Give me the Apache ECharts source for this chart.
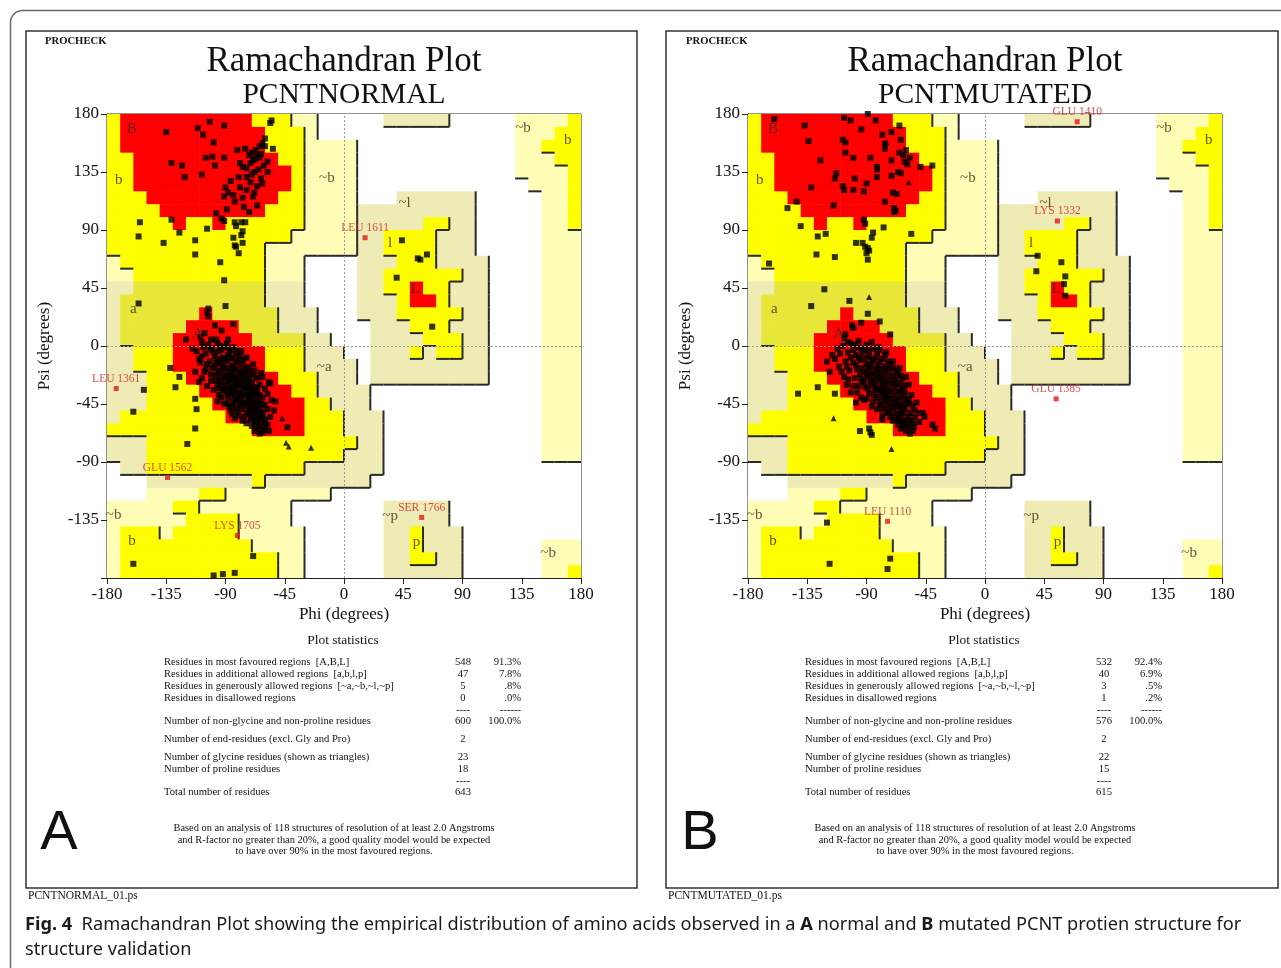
<!DOCTYPE html>
<html><head><meta charset="utf-8">
<script src="https://cdn.jsdelivr.net/npm/echarts@6/dist/echarts.min.js"></script>
<style>html,body{margin:0;padding:0;background:#fff;}#c{width:1281px;height:968px;}</style>
</head><body><div id="c"></div>
<script>
// ---------- DATA ----------
// PROCHECK region map, 10-degree cells. Row 0 = psi 170..180, col 0 = phi -180..-170
// 0 white, 1 generous (pale), 2 generous (beige), 3 allowed, 4 allowed (shaded band), 5 core
const regionRows = [
 "3555555555"+"5333110000"+"0222220000"+"011113",
 "3555555555"+"5533310000"+"0000000000"+"011133",
 "3555555555"+"5533311110"+"0000000000"+"011333",
 "3355555555"+"5553311110"+"0000000000"+"011133",
 "3355555555"+"5555311110"+"0000000000"+"011113",
 "3355555555"+"5555311110"+"0000000000"+"001113",
 "3335555555"+"5553311110"+"0022222200"+"000113",
 "3333555555"+"5533311112"+"2222222200"+"000113",
 "3333353353"+"3333311112"+"2222332200"+"000113",
 "3333333333"+"3333111112"+"2333322200"+"000111",
 "3333333333"+"3311111112"+"2333322200"+"000111",
 "1333333333"+"3311100002"+"2233322220"+"000111",
 "1133333333"+"3311100002"+"2333333220"+"000111",
 "2244444444"+"4422200002"+"2335332220"+"000111",
 "2444444444"+"4422200002"+"2235532220"+"000111",
 "2444444544"+"4442220002"+"2233333220"+"000111",
 "2444445555"+"4442220000"+"2223332220"+"000111",
 "2444455555"+"5444422000"+"2222333220"+"000111",
 "2233355555"+"5533322200"+"2223233220"+"000111",
 "2233355555"+"5533322220"+"2222222220"+"000111",
 "2223335555"+"5553332220"+"2222222220"+"000111",
 "2223333555"+"5555332222"+"0000000000"+"000111",
 "2223333355"+"5555533222"+"0000000000"+"000111",
 "2333333335"+"5555533322"+"2000000000"+"000111",
 "3333333333"+"3555533322"+"2000000000"+"000111",
 "2223333333"+"3333333332"+"2000000000"+"000111",
 "2223333333"+"3333333322"+"2000000000"+"000111",
 "0223333333"+"3333322222"+"2000000000"+"000000",
 "0002222222"+"2322222222"+"0000000000"+"000000",
 "0001111331"+"1111111000"+"0000000000"+"000000",
 "1111133111"+"1111000000"+"0222220000"+"000000",
 "1111113333"+"1111000000"+"0222220000"+"000000",
 "1333133333"+"1111100000"+"0223222000"+"000000",
 "1333333333"+"3111100000"+"0223222000"+"000111",
 "1333333333"+"3331100000"+"0223322000"+"000111",
 "1333333333"+"3331100000"+"0222222000"+"000113"
];

const regionLabelNames = ['B','b','A','a','L','l','~l','~b','b','~b','~a','~b','b','~p','p','~b'];
const regionLabelPhi   = [-161,-171,-111,-160,54,35,46,136,170,-13,-15,-175,-161,35,55,155];
const regionLabelPsi   = [168,129,9,29,44,80,111,169,160,130,-16,-131,-151,-132,-152,-161];

// ---- Panel A (PCNTNORMAL) ----
const betaPointsA = [
 [-55,175],[-56,173],[-102,174],[-91,171],[-111,169],[-135,166],[-107,164],[-60,161],[-99,158],[-62,157],
 [-64,155],[-75,153],[-81,152],[-54,153],[-105,146],[-100,147],[-91,146],[-131,142],[-123,140],[-98,140],
 [-79,142],[-69,144],[-66,148],[-77,139],[-74,138],[-71,142],[-61,140],[-64,146],[-70,150],[-68,135],
 [-121,131],[-108,133],[-80,131],[-74,131],[-63,130],[-90,123],[-88,119],[-79,123],[-74,121],[-68,119],
 [-91,116],[-83,112],[-77,115],[-69,116],[-97,103],[-89,106],[-66,109],[-93,99],[-91,97],[-155,96],
 [-131,98],[-125,88],[-156,85],[-104,91],[-137,80],[-113,82],[-113,71],[-83,96],[-78,96],[-75,96],
 [-82,93],[-77,89],[-78,86],[-84,84],[-83,78],[-82,77],[-80,72],[-77,80],[-94,65],[-91,51],
 [-90,31],[-156,33],[-72,148],[-67,152],[-60,155],[-65,137],[-58,143],[-62,126],[-66,124],[-71,127],
 [-86,128],[-84,117],[-76,108],[-72,104],[-68,145],[-63,149],[-70,133],[-58,135]
];
const alphaPointsA = [
 [-103,29],[-104,26],[-103,23],[-98,16],[-84,17],[-120,5],[-109,7],[-97,5],[-132,-17],[-125,-24],
 [-128,-32],[-152,-34],[-113,-41],[-112,-49],[-160,-51],[-113,-64],[-119,-76],[-83,-56],[-56,-29],[-52,-43],
 [-53,-50],[-62,-53],[-43,-63],[-108,-8],[-105,-18],[-110,-28],[-106,10],[-93,12],[-88,5],[-115,-2],
 [-100,-2],[-95,-4],[-90,-1],[-86,-3],[-82,-6],[-105,-6],[-98,-8],[-92,-9],[-88,-7],[-84,-10],
 [-79,-8],[-102,-12],[-97,-13],[-93,-14],[-89,-12],[-85,-15],[-81,-13],[-77,-14],[-73,-16],[-100,-17],
 [-95,-19],[-91,-18],[-87,-20],[-83,-19],[-79,-21],[-75,-20],[-71,-22],[-68,-19],[-98,-23],[-94,-25],
 [-90,-24],[-86,-26],[-82,-25],[-78,-27],[-74,-26],[-70,-28],[-66,-25],[-96,-30],[-92,-31],[-88,-29],
 [-84,-32],[-80,-30],[-76,-33],[-72,-31],[-68,-34],[-64,-30],[-90,-36],[-86,-37],[-82,-35],[-78,-38],
 [-74,-36],[-70,-39],[-66,-37],[-62,-40],[-88,-41],[-84,-43],[-80,-41],[-76,-44],[-72,-42],[-68,-45],
 [-64,-43],[-60,-46],[-82,-48],[-78,-49],[-74,-47],[-70,-50],[-66,-48],[-62,-51],[-58,-49],[-80,-54],
 [-76,-55],[-72,-53],[-68,-56],[-64,-54],[-60,-57],[-74,-60],[-70,-62],[-66,-59],[-62,-63],[-58,-61],
 [-68,-66],[-64,-68],[-60,-65],[-94,-10],[-81,-28],[-77,-24],[-73,-40],[-79,-45],[-85,-22],[-71,-34],
 [-67,-42],[-75,-30],[-87,-33],[-83,-39],[-69,-47],[-65,-52],[-63,-58],[-107,-1],[-103,1],[-96,2],
 [-110,-10],[-106,-20],[-101,-27],[-99,-34],[-95,-38],[-91,-45],[-86,-50],[-71,-57],[-56,-55],[-57,-66],
 [-99,-5],[-93,-3],[-87,-5],[-81,-4],[-96,-11],[-90,-10],[-86,-9],[-80,-11],[-76,-10],[-104,-14],
 [-98,-16],[-92,-16],[-88,-17],[-84,-17],[-80,-18],[-76,-18],[-72,-19],[-96,-21],[-92,-22],[-88,-23],
 [-84,-24],[-80,-23],[-76,-22],[-72,-24],[-68,-23],[-94,-28],[-90,-27],[-86,-28],[-82,-29],[-78,-29],
 [-74,-28],[-70,-30],[-66,-32],[-90,-33],[-86,-34],[-82,-31],[-78,-34],[-74,-32],[-70,-35],[-66,-35],
 [-84,-36],[-80,-37],[-76,-38],[-72,-38],[-68,-38],[-64,-38],[-82,-42],[-78,-42],[-74,-44],[-70,-43],
 [-66,-44],[-62,-45],[-78,-46],[-74,-52],[-70,-46],[-66,-50],[-72,-49],[-68,-52],[-64,-49],[-70,-55],
 [-66,-57],[-62,-56],[-68,-60],[-64,-62],[-60,-60],[-66,-64],[-62,-67],[-92,-34],[-88,-38],[-84,-46],
 [-112,-4],[-109,-13],[-113,-20],[-108,-25],[-104,-31],[-102,-3],[-101,-22],[-97,-27],[-95,-33],[-93,-40],
 [-89,-45],[-87,-47],[-81,-51],[-77,-58],[-62,-24],[-60,-33],[-58,-37],[-55,-42],[-57,-28],[-63,-21],
 [-69,-14],[-74,-9],[-78,-4],[-84,-1],[-89,2],[-94,0],[-101,5],[-108,3],[-96,-43],[-85,-53]
];
const otherPointsA = [[44,82],[56,68],[58,67],[63,71],[40,53],[67,15],[-69,-163],[-160,-169],[-99,-178],[-92,-177],[-83,-176]];
const glycinePointsA = [[-47,-56],[-44,-75],[-42,-78],[-25,-79]];
const outlierNamesA = ['LEU 1611','LEU 1361','GLU 1562','LYS 1705','SER 1766'];
const outlierPhiA = [16,-173,-134,-81,59];
const outlierPsiA = [84,-33,-102,-147,-133];

// ---- Panel B (PCNTMUTATED) ----
const betaPointsB = [
 [-160,176],[-107,177],[-102,175],[-89,180],[-83,175],[-65,171],[-137,171],[-94,168],[-78,164],[-71,166],
 [-64,160],[-134,159],[-108,160],[-106,158],[-76,157],[-76,153],[-106,150],[-100,146],[-87,146],[-65,150],
 [-62,148],[-60,152],[-57,146],[-61,143],[-59,141],[-125,144],[-71,144],[-49,139],[-40,140],[-82,139],
 [-82,137],[-71,132],[-66,135],[-64,134],[-113,134],[-114,130],[-99,130],[-90,126],[-82,131],[-108,124],
 [-107,121],[-132,123],[-100,121],[-92,120],[-70,119],[-67,118],[-76,112],[-69,107],[-68,105],[-69,104],
 [-115,109],[-143,112],[-150,107],[-92,98],[-91,95],[-140,93],[-77,92],[-121,87],[-127,85],[-56,87],
 [-85,88],[-86,84],[-98,80],[-93,80],[-91,77],[-89,76],[-90,72],[-88,74],[-89,67],[-128,71],
 [-114,69],[-164,64],[-122,44],[-132,31],[-103,35],[-89,25],[-101,16],[-100,14],[-94,18],[-80,19],
 [-72,9],[-106,9],[-107,6],[-104,3]
];
const alphaPointsB = [
 [-142,-37],[-127,-32],[-114,-37],[-95,-66],[-88,-64],[-87,-67],[-86,-69],[-78,-57],[-46,-55],[-38,-64],
 [-40,-61],[-108,0],[-102,2],[-96,-1],[-90,1],[-85,-2],[-80,-3],[-110,-6],[-104,-5],[-98,-7],
 [-93,-6],[-88,-8],[-83,-9],[-78,-10],[-106,-12],[-100,-13],[-95,-11],[-90,-14],[-86,-12],[-81,-15],
 [-76,-16],[-72,-14],[-103,-19],[-97,-18],[-92,-20],[-88,-19],[-84,-21],[-79,-22],[-75,-20],[-70,-23],
 [-66,-21],[-99,-25],[-94,-26],[-89,-24],[-85,-27],[-80,-26],[-76,-28],[-72,-27],[-67,-29],[-63,-26],
 [-96,-31],[-91,-32],[-86,-30],[-82,-33],[-78,-31],[-74,-34],[-69,-32],[-65,-35],[-61,-31],[-88,-37],
 [-84,-38],[-79,-36],[-75,-39],[-71,-37],[-66,-40],[-62,-38],[-58,-41],[-85,-43],[-80,-44],[-76,-42],
 [-72,-45],[-68,-43],[-63,-46],[-59,-44],[-55,-47],[-78,-49],[-74,-50],[-70,-48],[-65,-51],[-61,-49],
 [-57,-52],[-53,-50],[-72,-55],[-68,-56],[-64,-54],[-60,-57],[-56,-58],[-66,-61],[-62,-62],[-58,-60],
 [-54,-63],[-50,-59],[-60,-66],[-57,-68],[-92,-42],[-70,-17],[-82,-24],[-77,-35],[-87,-16],[-73,-41],
 [-67,-46],[-81,-19],[-93,-28],[-64,-58],[-114,-10],[-111,-16],[-107,-24],[-105,-30],[-102,-36],[-120,-12],
 [-118,-20],[-98,-44],[-96,4],[-86,3],
 [-100,-3],[-94,-2],[-88,-4],[-82,-6],[-76,-7],[-102,-9],[-96,-9],[-91,-10],[-85,-11],[-80,-12],
 [-74,-12],[-98,-15],[-93,-17],[-88,-16],[-83,-17],[-78,-18],[-73,-18],[-68,-19],[-95,-22],[-90,-22],
 [-86,-23],[-81,-24],[-77,-24],[-73,-23],[-68,-25],[-64,-23],[-92,-27],[-87,-28],[-83,-29],[-78,-29],
 [-74,-30],[-70,-29],[-65,-30],[-89,-33],[-84,-34],[-80,-34],[-76,-36],[-72,-35],[-67,-36],[-63,-34],
 [-82,-40],[-78,-40],[-74,-41],[-69,-41],[-64,-42],[-60,-42],[-80,-46],[-76,-46],[-71,-47],[-66,-47],
 [-62,-47],[-57,-45],[-74,-52],[-70,-52],[-66,-53],[-62,-52],[-58,-55],[-70,-58],[-66,-58],[-62,-59],
 [-58,-63],[-54,-60],[-64,-64],[-60,-62],
 [-112,-2],[-116,-7],[-109,-20],[-104,-26],[-100,-31],[-97,-36],[-94,-40],[-90,-41],[-86,-47],[-82,-49],
 [-78,-54],[-61,-36],[-58,-30],[-56,-38],[-52,-44],[-60,-24],[-65,-17],[-70,-12],[-75,-5],[-81,-1],
 [-91,-3],[-99,1],[-105,-16],[-53,-55],[-49,-52],[-55,-66]
];
const otherPointsB = [[40,70],[39,58],[58,65],[61,54],[60,48],[61,39],[-120,-137],[-118,-169],[-72,-165],[-74,-173]];
const glycinePointsB = [[-88,38],[-115,-56],[-71,-80],[-46,-51],[-58,127],[-75,158]];
const outlierNamesB = ['GLU 1410','LYS 1332','GLU 1385','LEU 1110'];
const outlierPhiB = [70,55,54,-74];
const outlierPsiB = [174,97,-41,-136];

// ---- Texts ----
const titleLine = 'Ramachandran Plot';
const panelNames = ['PCNTNORMAL','PCNTMUTATED'];
const panelFiles = ['PCNTNORMAL_01.ps','PCNTMUTATED_01.ps'];
const panelLetters = ['A','B'];
const statLabels = [
 'Residues in most favoured regions  [A,B,L]',
 'Residues in additional allowed regions  [a,b,l,p]',
 'Residues in generously allowed regions  [~a,~b,~l,~p]',
 'Residues in disallowed regions',
 '',
 'Number of non-glycine and non-proline residues',
 'Number of end-residues (excl. Gly and Pro)',
 'Number of glycine residues (shown as triangles)',
 'Number of proline residues',
 '',
 'Total number of residues'
];
const statOffsets = [0,12,24,36,48,59,77,95,107,119,130];
const statCountsA = ['548','47','5','0','----','600','2','23','18','----','643'];
const statPctA = ['91.3%','7.8%','.8%','.0%','------','100.0%','','','','',''];
const statCountsB = ['532','40','3','1','----','576','2','22','15','----','615'];
const statPctB = ['92.4%','6.9%','.5%','.2%','------','100.0%','','','','',''];
const footLines = [
 'Based on an analysis of 118 structures of resolution of at least 2.0 Angstroms',
 'and R-factor no greater than 20%, a good quality model would be expected',
 'to have over 90% in the most favoured regions.'
];
const captionLine1 = '{b|Fig. 4}  Ramachandran Plot showing the empirical distribution of amino acids observed in a {b|A} normal and {b|B} mutated PCNT protien structure for';
const captionLine2 = 'structure validation';

// ---------- BUILD ----------
const SERIF = "'Liberation Serif','DejaVu Serif',serif";
const regionColors = ['#ffffff','#fefdb6','#eeebb4','#fefe00','#e9e63a','#fe0000'];
const regionLevel = [0,1,1,2,2,3];

const cells = [];
const edges = [];
for (let r = 0; r < 36; r++) {
  for (let c = 0; c < 36; c++) {
    const code = +regionRows[r][c];
    const x = -180 + c * 10, yTop = 180 - r * 10, yBot = 170 - r * 10;
    cells.push([x, yBot, code]);
    const L = regionLevel[code];
    if (L === 1 || L === 2) {
      if (c < 35) {
        const rc = +regionRows[r][c + 1];
        if (regionLevel[rc] < L || (code === 1 && rc === 2)) edges.push([x + 10, yTop, x + 10, yBot]);
      }
      if (r < 35) {
        const bc = +regionRows[r + 1][c];
        if (regionLevel[bc] < L) edges.push([x, yBot, x + 10, yBot]);
      }
    }
  }
}

const gridLefts = [107, 748];
const panelOffset = 641;

function axisCommon(gi) {
  return {
    gridIndex: gi, type: 'value', min: -180, max: 180, interval: 45,
    axisLine: { show: true, onZero: false, lineStyle: { color: '#222', width: 1 } },
    axisTick: { show: true, inside: false, length: 6, lineStyle: { color: '#222' } },
    splitLine: { show: false },
    nameTextStyle: { fontFamily: SERIF, fontSize: 17, color: '#111' }
  };
}
const xAxes = [], yAxes = [], grids = [], series = [];
for (let gi = 0; gi < 2; gi++) {
  grids.push({ left: gridLefts[gi], top: 114, width: 474, height: 464, show: true, borderColor: '#222', borderWidth: 1, backgroundColor: '#fff' });
  xAxes.push(Object.assign(axisCommon(gi), {
    name: 'Phi (degrees)', nameLocation: 'middle', nameGap: 28,
    axisLabel: { fontFamily: SERIF, fontSize: 17, color: '#111', margin: 8 }
  }));
  yAxes.push(Object.assign(axisCommon(gi), {
    name: 'Psi (degrees)', nameLocation: 'middle', nameGap: 54,
    axisLabel: { fontFamily: SERIF, fontSize: 17, color: '#111', margin: 8, formatter: v => (v === -180 ? '' : String(v)) }
  }));
  series.push({
    type: 'custom', xAxisIndex: gi, yAxisIndex: gi, z: 1, silent: true, clip: true,
    data: cells, encode: { x: 0, y: 1 },
    renderItem: (p, api) => {
      const a = api.coord([api.value(0), api.value(1) + 10]);
      const b = api.coord([api.value(0) + 10, api.value(1)]);
      return { type: 'rect', shape: { x: a[0], y: a[1], width: b[0] - a[0] + 0.6, height: b[1] - a[1] + 0.6 },
        style: { fill: regionColors[api.value(2)] } };
    }
  });
  series.push({
    type: 'custom', xAxisIndex: gi, yAxisIndex: gi, z: 2, silent: true, clip: true,
    data: edges, encode: { x: [0, 2], y: [1, 3] },
    renderItem: (p, api) => {
      const a = api.coord([api.value(0), api.value(1)]);
      const b = api.coord([api.value(2), api.value(3)]);
      return { type: 'line', shape: { x1: a[0], y1: a[1], x2: b[0], y2: b[1] }, style: { stroke: '#2a2a2a', lineWidth: 2 } };
    },
    markLine: { silent: true, symbol: 'none', label: { show: false },
      lineStyle: { color: '#9a9a9a', type: [2, 2], width: 1 },
      data: [{ xAxis: 0 }, { yAxis: 0 }] }
  });
  const beta = gi ? betaPointsB : betaPointsA;
  const alpha = gi ? alphaPointsB : alphaPointsA;
  const other = gi ? otherPointsB : otherPointsA;
  series.push({
    type: 'scatter', xAxisIndex: gi, yAxisIndex: gi, z: 3, silent: true,
    symbol: 'rect', symbolSize: 6, itemStyle: { color: '#000' },
    data: beta.concat(alpha, other)
  });
  series.push({
    type: 'scatter', xAxisIndex: gi, yAxisIndex: gi, z: 3, silent: true,
    symbol: 'triangle', symbolSize: 6, itemStyle: { color: '#000' },
    data: gi ? glycinePointsB : glycinePointsA
  });
  const on = gi ? outlierNamesB : outlierNamesA;
  const op = gi ? outlierPhiB : outlierPhiA;
  const os = gi ? outlierPsiB : outlierPsiA;
  series.push({
    type: 'scatter', xAxisIndex: gi, yAxisIndex: gi, z: 4, silent: true,
    symbol: 'rect', symbolSize: 5, itemStyle: { color: '#e01818' },
    label: { show: true, formatter: '{b}', position: 'top', distance: 1, color: '#d42020', fontFamily: SERIF, fontSize: 11.5 },
    data: on.map((n, i) => ({ name: n, value: [op[i], os[i]] }))
  });
  series.push({
    type: 'scatter', xAxisIndex: gi, yAxisIndex: gi, z: 4, silent: true,
    symbolSize: 0,
    label: { show: true, formatter: '{b}', position: 'inside', color: '#3a2a1a', fontFamily: SERIF, fontSize: 15 },
    data: regionLabelNames.map((n, i) => ({ name: n, value: [regionLabelPhi[i], regionLabelPsi[i]] }))
  });
}

function txt(x, y, text, size, o) {
  o = o || {};
  return { type: 'text', x: x, y: y, scaleX: o.sx || 1, silent: true, z: 10,
    style: { text: text, fontSize: size, fontFamily: o.ff || SERIF, fontWeight: o.fw || 'normal',
      fill: o.fill || '#111', textAlign: o.align || 'left', align: o.align || 'left',
      textVerticalAlign: 'middle', verticalAlign: 'middle', rich: o.rich } };
}

const graphics = [];
graphics.push({ type: 'rect', silent: true, z: 0, shape: { x: 10.5, y: 10.5, width: 1320, height: 1000, r: 12 },
  style: { fill: 'none', stroke: '#6a6a6a', lineWidth: 1.5 } });
const frameX = [26, 666], frameW = [611, 612];
for (let gi = 0; gi < 2; gi++) {
  const off = gi * panelOffset;
  graphics.push({ type: 'rect', silent: true, z: 0, shape: { x: frameX[gi], y: 31, width: frameW[gi], height: 857 },
    style: { fill: 'none', stroke: '#333', lineWidth: 1.5 } });
  graphics.push(txt(45 + off, 41, 'PROCHECK', 11.2, { fw: 'bold', sx: 0.95 }));
  graphics.push(txt(344 + off, 62, titleLine, 35, { align: 'center' }));
  graphics.push(txt(344 + off, 95, panelNames[gi], 29.5, { align: 'center' }));
  graphics.push(txt(343 + off, 640, 'Plot statistics', 13.5, { align: 'center' }));
  const counts = gi ? statCountsB : statCountsA;
  const pcts = gi ? statPctB : statPctA;
  for (let i = 0; i < statLabels.length; i++) {
    const y = 662 + statOffsets[i];
    if (statLabels[i]) graphics.push(txt(164 + off, y, statLabels[i], 10.6));
    if (counts[i]) graphics.push(txt(463 + off, y, counts[i], 10.6, { align: 'center' }));
    if (pcts[i]) graphics.push(txt(521 + off, y, pcts[i], 10.6, { align: 'right' }));
  }
  footLines.forEach((l, i) => graphics.push(txt(334 + off, 828 + i * 11.8, l, 10.4, { align: 'center' })));
  graphics.push(txt(59 + off, 834, panelLetters[gi], 56, { align: 'center', ff: "'Liberation Sans',Arial,sans-serif" }));
  graphics.push(txt(28 + frameX[gi] - 26, 896, panelFiles[gi], 12, { sx: 0.96 }));
}
const capRich = { b: { fontWeight: 'bold', fontSize: 18.2, fontFamily: "'Noto Sans',sans-serif", fill: '#1a1a1a' } };
graphics.push(txt(25, 925, captionLine1, 18.2, { ff: "'Noto Sans',sans-serif", fill: '#1a1a1a', rich: capRich }));
graphics.push(txt(25, 950, captionLine2, 18.2, { ff: "'Noto Sans',sans-serif", fill: '#1a1a1a' }));

const chart = echarts.init(document.getElementById('c'), null, { renderer: 'canvas' });
chart.setOption({
  animation: false,
  backgroundColor: '#fff',
  grid: grids, xAxis: xAxes, yAxis: yAxes, series: series,
  graphic: { elements: graphics }
});
</script></body></html>
